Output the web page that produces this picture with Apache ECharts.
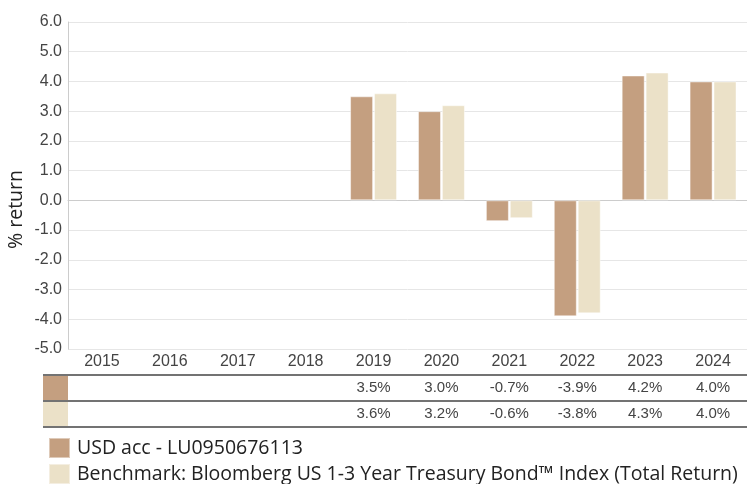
<!DOCTYPE html>
<html>
<head>
<meta charset="utf-8">
<script src="https://cdn.jsdelivr.net/npm/echarts@6/dist/echarts.min.js"></script>
<style>
  html, body { margin: 0; padding: 0; background: #fff; }
  #chart { width: 747px; height: 484px; }
</style>
</head>
<body>
<div id="chart"></div>
<script>
const years = ['2015', '2016', '2017', '2018', '2019', '2020', '2021', '2022', '2023', '2024']
const fundReturns = [null, null, null, null, 3.5, 3.0, -0.7, -3.9, 4.2, 4.0]
const benchReturns = [null, null, null, null, 3.6, 3.2, -0.6, -3.8, 4.3, 4.0]
const fundName = 'USD acc - LU0950676113'
const benchName = 'Benchmark: Bloomberg US 1-3 Year Treasury Bond™ Index (Total Return)'
const yMin = -5
const yMax = 6

const colors = ['#c49f80', '#ebe1c8']
const numFont = '"Liberation Sans", Arial, sans-serif'
const textFont = '"Open Sans", "Noto Sans", sans-serif'

const fmt = v => (v == null ? '' : v.toFixed(1) + '%')

// table row axes: one hidden grid per row, labels come from the data
function tableAxis(gridIndex, values) {
  return {
    type: 'category',
    gridIndex,
    data: years,
    position: 'top',
    axisLine: { show: false },
    axisTick: { show: false },
    axisLabel: {
      inside: true,
      margin: 5,
      color: '#444',
      fontSize: 15,
      fontFamily: numFont,
      formatter: (val, idx) => fmt(values[idx])
    }
  }
}

function legendRow(name, top) {
  return {
    left: 48,
    top,
    padding: 0,
    itemWidth: 21,
    itemHeight: 20,
    icon: 'rect',
    data: [name],
    textStyle: { color: '#222', fontSize: 19.5, fontFamily: textFont, padding: [0, 0, 0, 2] }
  }
}

const option = {
  animation: false,
  color: colors,
  grid: [
    { left: 68, right: -3, top: 22, bottom: 135 },
    { left: 68, right: -3, top: 375, height: 26 },
    { left: 68, right: -3, top: 401, height: 26 }
  ],
  legend: [legendRow(fundName, 437), legendRow(benchName, 463)],
  xAxis: [
    {
      type: 'category',
      data: years,
      axisLine: { show: true, lineStyle: { color: '#ccc' } },
      axisTick: { show: false },
      axisLabel: { color: '#444', fontSize: 16, fontFamily: numFont, margin: 5 }
    },
    tableAxis(1, fundReturns),
    tableAxis(2, benchReturns)
  ],
  yAxis: [
    {
      type: 'value',
      min: yMin,
      max: yMax,
      interval: 1,
      axisLine: { show: true, lineStyle: { color: '#ccc' } },
      axisTick: { show: false },
      splitLine: { lineStyle: { color: '#e6e6e6' } },
      axisLabel: {
        color: '#444',
        fontSize: 16,
        fontFamily: numFont,
        margin: 6,
        formatter: v => v.toFixed(1)
      }
    },
    { type: 'value', gridIndex: 1, min: 0, max: 1, show: false },
    { type: 'value', gridIndex: 2, min: 0, max: 1, show: false }
  ],
  series: [
    {
      name: fundName,
      type: 'bar',
      data: fundReturns,
      barWidth: 23,
      barGap: '4%',
      itemStyle: { borderColor: 'rgba(255,255,255,0.45)', borderWidth: 1 }
    },
    {
      name: benchName,
      type: 'bar',
      data: benchReturns,
      barWidth: 23,
      barGap: '4%',
      itemStyle: { borderColor: 'rgba(255,255,255,0.45)', borderWidth: 1 }
    }
  ],
  graphic: [
    {
      type: 'text',
      left: 6,
      top: 170,
      rotation: Math.PI / 2,
      style: { text: '% return', fill: '#222', fontSize: 19.5, fontFamily: textFont }
    },
    // table rules
    { type: 'line', shape: { x1: 43, y1: 375, x2: 747, y2: 375 }, style: { stroke: '#444', lineWidth: 1.5 } },
    { type: 'line', shape: { x1: 43, y1: 401, x2: 747, y2: 401 }, style: { stroke: '#444', lineWidth: 1.5 } },
    { type: 'line', shape: { x1: 43, y1: 427, x2: 747, y2: 427 }, style: { stroke: '#444', lineWidth: 1.5 } },
    // row swatches
    { type: 'rect', shape: { x: 43, y: 376, width: 25, height: 24 }, style: { fill: colors[0] } },
    { type: 'rect', shape: { x: 43, y: 402, width: 25, height: 24 }, style: { fill: colors[1] } }
  ]
}

const chart = echarts.init(document.getElementById('chart'))
chart.setOption(option)
</script>
</body>
</html>
